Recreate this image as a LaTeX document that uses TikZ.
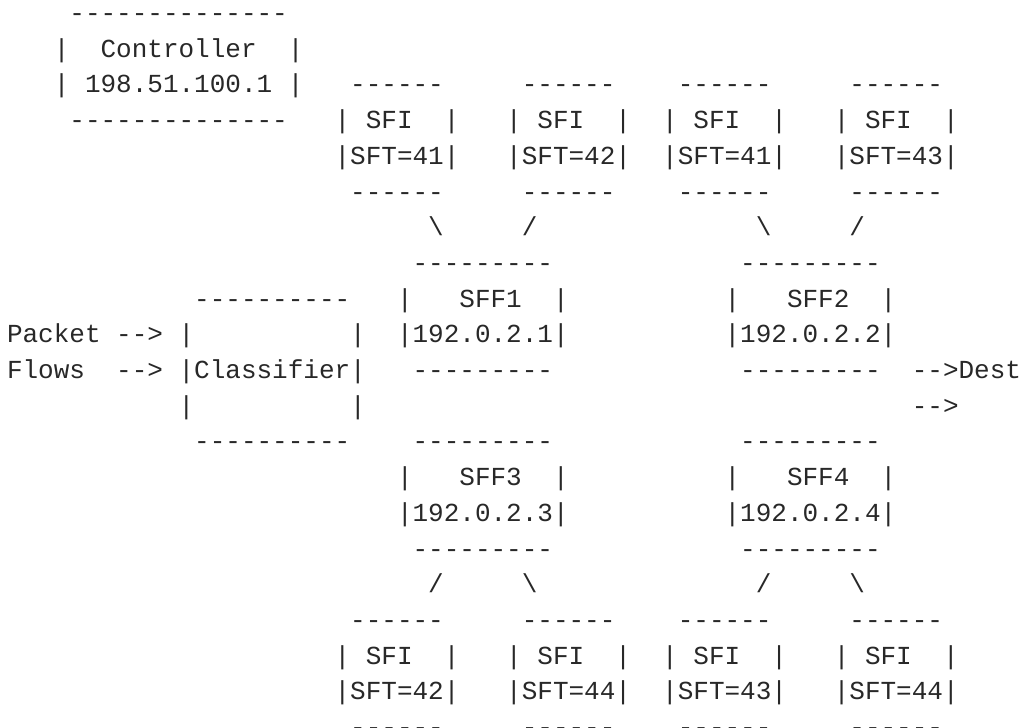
\documentclass[tikz,border=0pt]{standalone}
\usepackage{fontspec}
\setmonofont{Liberation Mono}
\definecolor{inkc}{RGB}{40,40,40}
\newcommand\bsl{\textbackslash}
\newcommand\asc[3]{\node[txt] (r#1c#2) at ({7pt+#2*15.6pt},{-21.5pt-#1*35.7pt}) {#3};}
\newcommand\sfibox[2]{\asc{#1}{#2}{|}\asc{#1}{\the\numexpr#2+2\relax}{SFI}\asc{#1}{\the\numexpr#2+7\relax}{|}}
\newcommand\dashrow[1]{\asc{#1}{22}{------}\asc{#1}{33}{------}\asc{#1}{43}{------}\asc{#1}{54}{------}}
\begin{document}
\begin{tikzpicture}[
  txt/.style={anchor=base west, inner sep=0pt, outer sep=0pt,
    font=\ttfamily\fontsize{26pt}{30pt}\selectfont, text=inkc}]
\fill[white] (0,0) rectangle (1023pt,-728pt);
\useasboundingbox (0,0) rectangle (1023pt,-728pt);
% row 0-3: controller
\asc{0}{4}{--------------}
\asc{1}{3}{|}\asc{1}{6}{Controller}\asc{1}{18}{|}
\asc{2}{3}{|}\asc{2}{5}{198.51.100.1}\asc{2}{18}{|}
\dashrow{2}
\asc{3}{4}{--------------}
\sfibox{3}{21}\sfibox{3}{32}\sfibox{3}{42}\sfibox{3}{53}
\asc{4}{21}{|SFT=41|}\asc{4}{32}{|SFT=42|}\asc{4}{42}{|SFT=41|}\asc{4}{53}{|SFT=43|}
\dashrow{5}
\asc{6}{27}{\bsl}\asc{6}{33}{/}\asc{6}{48}{\bsl}\asc{6}{54}{/}
\asc{7}{26}{---------}\asc{7}{47}{---------}
\asc{8}{12}{----------}
\asc{8}{25}{|}\asc{8}{29}{SFF1}\asc{8}{35}{|}
\asc{8}{46}{|}\asc{8}{50}{SFF2}\asc{8}{56}{|}
\asc{9}{0}{Packet}\asc{9}{7}{-->}\asc{9}{11}{|}\asc{9}{22}{|}
\asc{9}{25}{|192.0.2.1|}\asc{9}{46}{|192.0.2.2|}
\asc{10}{0}{Flows}\asc{10}{7}{-->}\asc{10}{11}{|Classifier|}
\asc{10}{26}{---------}\asc{10}{47}{---------}\asc{10}{58}{-->Dest}
\asc{11}{11}{|}\asc{11}{22}{|}\asc{11}{58}{-->}
\asc{12}{12}{----------}\asc{12}{26}{---------}\asc{12}{47}{---------}
\asc{13}{25}{|}\asc{13}{29}{SFF3}\asc{13}{35}{|}
\asc{13}{46}{|}\asc{13}{50}{SFF4}\asc{13}{56}{|}
\asc{14}{25}{|192.0.2.3|}\asc{14}{46}{|192.0.2.4|}
\asc{15}{26}{---------}\asc{15}{47}{---------}
\asc{16}{27}{/}\asc{16}{33}{\bsl}\asc{16}{48}{/}\asc{16}{54}{\bsl}
\dashrow{17}
\sfibox{18}{21}\sfibox{18}{32}\sfibox{18}{42}\sfibox{18}{53}
\asc{19}{21}{|SFT=42|}\asc{19}{32}{|SFT=44|}\asc{19}{42}{|SFT=43|}\asc{19}{53}{|SFT=44|}
\dashrow{20}
\end{tikzpicture}
\end{document}
